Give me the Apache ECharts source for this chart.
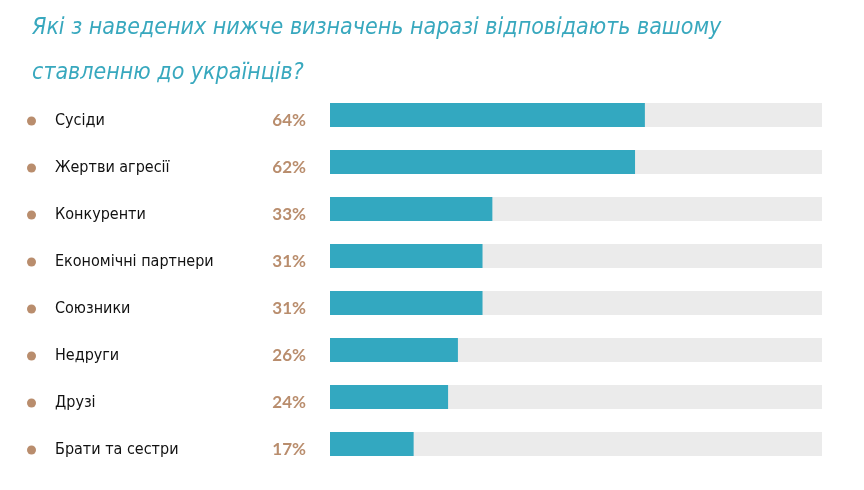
<!DOCTYPE html>
<html><head><meta charset="utf-8">
<script src="https://cdn.jsdelivr.net/npm/echarts@6/dist/echarts.min.js"></script>
<style>html,body{margin:0;padding:0;background:#fff}#c{width:864px;height:490px}</style>
</head><body><div id="c"></div>
<script>
const categories = ['Сусіди','Жертви агресії','Конкуренти','Економічні партнери','Союзники','Недруги','Друзі','Брати та сестри'];
const values = [64,62,33,31,31,26,24,17];
const titleText = 'Які з наведених нижче визначень наразі відповідають вашому\nставленню до українців?';

const chart = echarts.init(document.getElementById('c'));
chart.setOption({
  animation:false,
  title:{text:titleText,left:27,top:1,textStyle:{fontFamily:'Liberation Sans Narrow, DejaVu Sans Condensed, sans-serif',fontStyle:'italic',fontWeight:'normal',fontSize:23,lineHeight:45,color:'#38a8be'}},
  grid:{left:330,right:42,top:91.5,bottom:22.5},
  xAxis:{type:'value',min:0,max:100,show:false},
  yAxis:{type:'category',inverse:true,data:categories,axisLine:{show:false},axisTick:{show:false},
    axisLabel:{align:'left',margin:303,padding:[12,0,0,0],formatter:v=>'{d|}{s|}{n|'+v+'}',
      rich:{d:{width:9,height:9,borderRadius:4.5,backgroundColor:'#b98d6d'},s:{width:19},n:{fontFamily:'Liberation Sans Narrow, DejaVu Sans Condensed, sans-serif',fontSize:16,color:'#111'}}}},
  series:[{type:'bar',data:values,barWidth:24,itemStyle:{color:'#33a8c0'},showBackground:true,backgroundStyle:{color:'#ebebeb'},
    label:{show:true,position:'left',distance:24,offset:[0,6],formatter:'{c}%',fontFamily:'Lato, sans-serif',fontWeight:'bold',fontSize:17,color:'#b98d6d'}}]
});
</script></body></html>
